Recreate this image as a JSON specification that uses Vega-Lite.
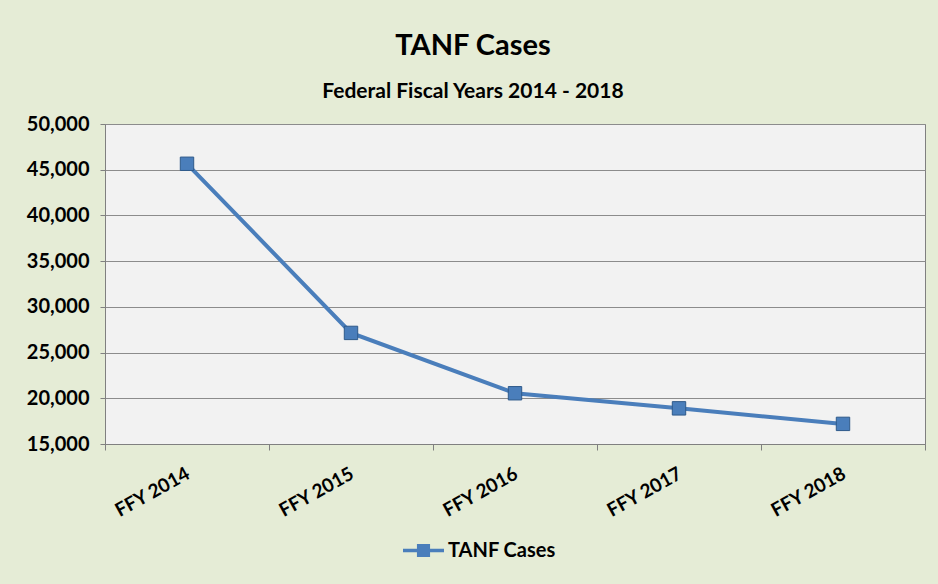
{
  "$schema": "https://vega.github.io/schema/vega-lite/v6.json",
  "width": 820,
  "height": 320,
  "autosize": {"type": "none"},
  "padding": {"left": 105, "top": 124, "right": 13, "bottom": 140},
  "background": "#e5ecd6",
  "title": {
    "text": "TANF Cases",
    "subtitle": "Federal Fiscal Years 2014 - 2018",
    "anchor": "middle",
    "frame": "bounds",
    "dx": -3,
    "font": "Lato",
    "fontSize": 29,
    "fontWeight": "bold",
    "color": "#000000",
    "subtitleFont": "Lato",
    "subtitleFontSize": 21,
    "subtitleFontWeight": "bold",
    "subtitleColor": "#000000",
    "subtitlePadding": 20,
    "offset": 12
  },
  "config": {
    "view": {"fill": "#f2f2f2", "stroke": "#808080", "strokeWidth": 1},
    "axis": {"labelFont": "Lato", "labelFontWeight": "bold", "labelColor": "#000000", "titleFont": "Lato"}
  },
  "data": {
    "values": [
      {"year": "FFY 2014", "cases": 45650, "series": "TANF Cases"},
      {"year": "FFY 2015", "cases": 27150, "series": "TANF Cases"},
      {"year": "FFY 2016", "cases": 20550, "series": "TANF Cases"},
      {"year": "FFY 2017", "cases": 18900, "series": "TANF Cases"},
      {"year": "FFY 2018", "cases": 17200, "series": "TANF Cases"}
    ]
  },
  "encoding": {
    "x": {
      "field": "year",
      "type": "ordinal",
      "scale": {"type": "band", "paddingInner": 0, "paddingOuter": 0},
      "axis": {
        "title": null,
        "bandPosition": 1,
        "tickExtra": true,
        "labelOffset": -3,
        "labelAngle": -29,
        "labelAlign": "right",
        "labelBaseline": "top",
        "labelFontSize": 19,
        "labelPadding": 14,
        "tickSize": 6,
        "tickColor": "#808080",
        "domainColor": "#808080",
        "grid": false
      }
    },
    "y": {
      "field": "cases",
      "type": "quantitative",
      "scale": {"domain": [15000, 50000], "nice": false, "zero": false},
      "axis": {
        "title": null,
        "values": [15000, 20000, 25000, 30000, 35000, 40000, 45000, 50000],
        "format": ",d",
        "labelFontSize": 20,
        "labelPadding": 11,
        "tickSize": 5,
        "tickColor": "#808080",
        "domainColor": "#808080",
        "grid": true,
        "gridColor": "#8c8c8c",
        "gridWidth": 1
      }
    },
    "color": {
      "field": "series",
      "type": "nominal",
      "scale": {"range": ["#4a7ebb"]},
      "legend": {
        "title": null,
        "orient": "none",
        "legendX": 298,
        "legendY": 406,
        "padding": 0,
        "symbolType": "M-1,-0.09H1V0.09H-1Z M-0.32,-0.32H0.32V0.32H-0.32Z",
        "symbolSize": 1681,
        "symbolFillColor": "#4a7ebb",
        "symbolStrokeWidth": 0,
        "symbolOpacity": 1,
        "labelFont": "Lato",
        "labelFontSize": 20,
        "labelFontWeight": "bold",
        "labelColor": "#000000",
        "labelOffset": 4
      }
    }
  },
  "layer": [
    {"mark": {"type": "line", "strokeWidth": 4}},
    {"mark": {"type": "point", "shape": "square", "filled": true, "size": 180, "opacity": 1, "stroke": "#2f5a8a", "strokeWidth": 1}}
  ]
}
